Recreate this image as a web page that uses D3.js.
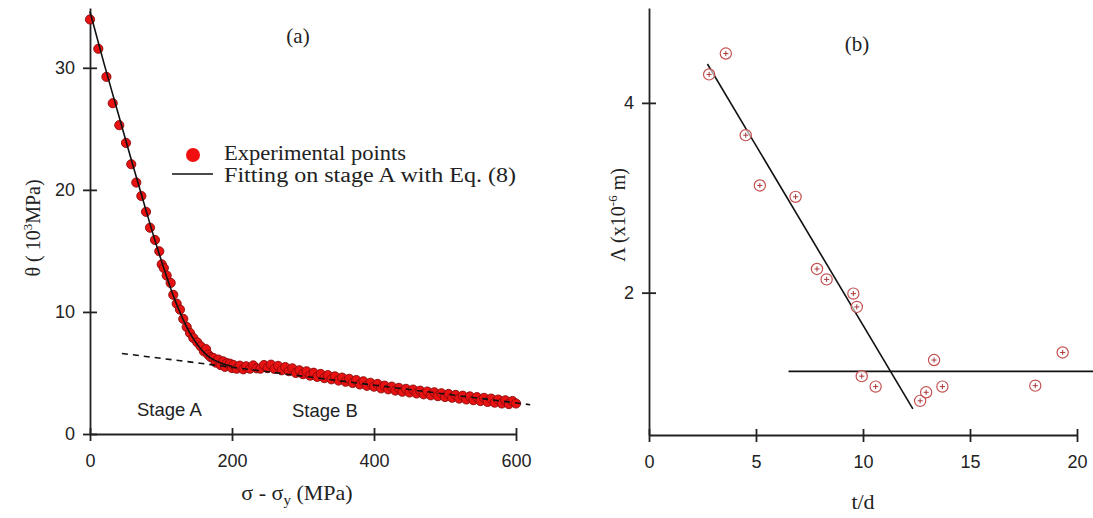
<!DOCTYPE html>
<html>
<head>
<meta charset="utf-8">
<script src="https://cdn.jsdelivr.net/npm/d3@7/dist/d3.min.js"></script>
<style>
  body { margin: 0; background: #fff; }
  .tick text { font-family: "Liberation Sans", Arial, sans-serif; fill: #222; }
  .ttl { font-family: "Liberation Serif", "Times New Roman", serif; fill: #222; }
</style>
</head>
<body>
<div id="chart"></div>
<script>
// ---- panel (a): work hardening rate vs. flow stress ----
var stressA = [0, 11.7, 23.1, 32, 41.2, 50.7, 58.1, 65.2, 72.3, 78.9, 84.5, 91.5, 97.6, 101, 104, 108, 113.6, 117.3, 122.1, 126.7,
    131.4, 136.2, 140.8, 145.5, 151.1, 155.9, 160.5, 163.5, 166.6, 170, 173.6, 177, 180.7, 184, 187.7, 190, 193, 197.1, 200, 202, 206.6,
    211, 215.9, 220, 225.3, 230, 234.7];
var thetaA = [33.96, 31.56, 29.26, 27.1, 25.3, 23.85, 22.1, 20.6, 19.5, 18.2, 16.9, 15.9, 14.97, 13.9, 13.6, 12.98, 12.38, 11.4, 10.68, 10.19,
    9.43, 8.77, 8.28, 7.87, 7.51, 7.18, 6.77, 6.95, 6.5, 6.3, 6.23, 5.85, 6.1, 5.65, 5.95, 5.5, 5.8, 5.76, 5.4, 5.65, 5.35,
    5.6, 5.3, 5.55, 5.35, 5.62, 5.38];
var stressB = [240, 245, 250, 255, 260, 265, 270, 275, 280, 285, 290, 295, 300, 305, 310, 315, 320, 325, 330, 335,
    340, 345, 350, 355, 360, 365, 370, 375, 380, 385, 390, 395, 400, 405, 410, 415, 420, 425, 430, 435,
    440, 445, 450, 455, 460, 465, 470, 475, 480, 485, 490, 495, 500, 505, 510, 515, 520, 525, 530, 535,
    540, 545, 550, 555, 560, 565, 570, 575, 580, 585, 590, 595, 600];
var thetaB = [5.35, 5.65, 5.4, 5.68, 5.33, 5.58, 5.22, 5.48, 5.15, 5.38, 5.0, 5.22, 4.9, 5.14, 4.78, 5.02, 4.68, 4.92, 4.58, 4.82,
    4.48, 4.72, 4.38, 4.62, 4.28, 4.52, 4.18, 4.42, 4.06, 4.32, 3.95, 4.2, 3.88, 4.1, 3.74, 3.96, 3.66, 3.88, 3.56, 3.78,
    3.46, 3.7, 3.4, 3.64, 3.32, 3.55, 3.25, 3.48, 3.17, 3.42, 3.1, 3.34, 3.03, 3.28, 2.97, 3.2, 2.9, 3.14, 2.83, 3.08,
    2.77, 3.02, 2.7, 2.96, 2.63, 2.9, 2.57, 2.82, 2.5, 2.76, 2.45, 2.7, 2.5];
var fitStress = [0, 20, 40, 60, 80, 95, 105, 115, 125, 135, 145, 155, 165, 175, 185, 200];
var fitTheta = [34.6, 30.3, 26.2, 22.1, 18.1, 15.2, 13.4, 11.7, 10.2, 8.9, 7.85, 7.05, 6.45, 6.05, 5.8, 5.55];
var dashStress = [45, 620];
var dashTheta = [6.6, 2.4];
var xTicksA = [0, 200, 400, 600];
var yTicksA = [0, 10, 20, 30];

// ---- panel (b): spacing vs. t/d ----
var tOverD = [2.81, 3.59, 4.52, 5.18, 6.85, 7.85, 8.3, 9.55, 9.71, 9.94, 10.59, 12.67, 12.95, 13.32, 13.71, 18.05, 19.33];
var lambdaVals = [4.3, 4.52, 3.66, 3.13, 3.01, 2.25, 2.14, 1.99, 1.85, 1.12, 1.01, 0.86, 0.95, 1.29, 1.01, 1.02, 1.37];
var slopeX = [2.73, 12.33];
var slopeY = [4.41, 0.775];
var flatX = [6.52, 20.8];
var flatY = [1.17, 1.17];
var xTicksB = [0, 5, 10, 15, 20];
var yTicksB = [2, 4];

var width = 1093, height = 518;
var svg = d3.select("#chart").append("svg")
    .attr("width", width).attr("height", height)
    .style("background", "#fff");

/* Scales */
var xA = d3.scaleLinear().domain([0, 600]).range([90, 516]);
var yA = d3.scaleLinear().domain([0, 34.9]).range([434, 8]);
var xB = d3.scaleLinear().domain([0, 20]).range([649, 1077]);
var yB = d3.scaleLinear().domain([0.5, 5.0]).range([435, 8]);

// crossing ticks like the original plot
var drawAxes = (x, y, xt, yt, x0, y0) => {
    var ax = svg.append("g")
        .attr("transform", `translate(0, ${y0})`)
        .call(d3.axisBottom(x).tickValues(xt).tickSize(6).tickSizeOuter(0).tickPadding(14).tickFormat(d3.format("d")));
    ax.selectAll(".tick line").attr("y1", -6).attr("y2", 7);
    ax.selectAll("text").style("font-size", "18px");
    var ay = svg.append("g")
        .attr("transform", `translate(${x0}, 0)`)
        .call(d3.axisLeft(y).tickValues(yt).tickSize(7).tickSizeOuter(0).tickPadding(8).tickFormat(d3.format("d")));
    ay.selectAll(".tick line").attr("x2", -7).attr("x1", 7);
    ay.selectAll("text").style("font-size", "18px");
    svg.selectAll(".domain, .tick line").attr("stroke", "#222").attr("stroke-width", 1.8);
};
drawAxes(xA, yA, xTicksA, yTicksA, 90, 434);
drawAxes(xB, yB, xTicksB, yTicksB, 649, 435);

/* Panel (a) marks */
var ptsA = stressA.map((s, i) => ({s: s, t: thetaA[i]}))
    .concat(stressB.map((s, i) => ({s: s, t: thetaB[i]})));
svg.append("g").attr("class", "exp-points")
    .selectAll("circle")
    .data(ptsA).enter()
    .append("circle")
    .attr("cx", d => xA(d.s))
    .attr("cy", d => yA(d.t))
    .attr("r", 4.6)
    .style("fill", "#e81212")
    .style("stroke", "#8a0a0a")
    .style("stroke-width", 0.9);

var fitLine = d3.line().curve(d3.curveMonotoneX)
    .x(d => xA(d[0])).y(d => yA(d[1]));
svg.append("path")
    .attr("d", fitLine(fitStress.map((s, i) => [s, fitTheta[i]])))
    .style("fill", "none").style("stroke", "#111").style("stroke-width", 1.6);
svg.append("path")
    .attr("d", d3.line().x(d => xA(d[0])).y(d => yA(d[1]))(dashStress.map((s, i) => [s, dashTheta[i]])))
    .style("fill", "none").style("stroke", "#111").style("stroke-width", 1.6)
    .style("stroke-dasharray", "6,5");

// legend
svg.append("circle").attr("cx", 193).attr("cy", 155).attr("r", 7).style("fill", "#f01010");
svg.append("line").attr("x1", 172).attr("x2", 213).attr("y1", 174).attr("y2", 174)
    .style("stroke", "#111").style("stroke-width", 1.6);
svg.append("text").attr("class", "ttl").attr("x", 224).attr("y", 160).style("font-size", "20px")
    .attr("textLength", 182).attr("lengthAdjust", "spacingAndGlyphs").text("Experimental points");
svg.append("text").attr("class", "ttl").attr("x", 224).attr("y", 182).style("font-size", "20px")
    .attr("textLength", 292).attr("lengthAdjust", "spacingAndGlyphs").text("Fitting on stage A with Eq. (8)");

svg.append("text").attr("x", 137).attr("y", 416)
    .style("font-family", "Liberation Sans, Arial, sans-serif").style("font-size", "18.5px").style("fill", "#222").text("Stage A");
svg.append("text").attr("x", 292).attr("y", 417)
    .style("font-family", "Liberation Sans, Arial, sans-serif").style("font-size", "18.5px").style("fill", "#222").text("Stage B");

svg.append("text").attr("class", "ttl").attr("x", 298).attr("y", 43).attr("text-anchor", "middle").style("font-size", "21px").text("(a)");
var xlab = svg.append("text").attr("class", "ttl").attr("x", 297).attr("y", 500).attr("text-anchor", "middle").style("font-size", "22px");
xlab.append("tspan").text("σ - σ");
xlab.append("tspan").attr("dy", 5).style("font-size", "15px").text("y");
xlab.append("tspan").attr("dy", -5).text(" (MPa)");
var ylab = svg.append("text").attr("class", "ttl")
    .attr("transform", "translate(40, 228) rotate(-90)").attr("text-anchor", "middle").style("font-size", "20px");
ylab.append("tspan").text("θ ( 10");
ylab.append("tspan").attr("dy", -8).style("font-size", "13px").text("3");
ylab.append("tspan").attr("dy", 8).text("MPa)");

/* Panel (b) marks */
var seg = d3.line().x(d => xB(d[0])).y(d => yB(d[1]));
svg.append("path").attr("d", seg(slopeX.map((v, i) => [v, slopeY[i]])))
    .style("fill", "none").style("stroke", "#111").style("stroke-width", 1.6);
svg.append("path").attr("d", seg(flatX.map((v, i) => [v, flatY[i]])))
    .style("fill", "none").style("stroke", "#111").style("stroke-width", 1.6);

var mk = svg.append("g").attr("class", "lambda-points")
    .selectAll("g")
    .data(tOverD.map((v, i) => ({x: v, y: lambdaVals[i]}))).enter()
    .append("g")
    .attr("transform", d => `translate(${xB(d.x)}, ${yB(d.y)})`);
mk.append("circle").attr("r", 5.6)
    .style("fill", "#fff").style("fill-opacity", 0.6)
    .style("stroke", "#c45050").style("stroke-width", 1.2);
mk.append("path").attr("d", "M-2.6,0H2.6M0,-2.6V2.6")
    .style("stroke", "#a83a3a").style("stroke-width", 1);

svg.append("text").attr("class", "ttl").attr("x", 857).attr("y", 51).attr("text-anchor", "middle").style("font-size", "21px").text("(b)");
svg.append("text").attr("class", "ttl").attr("x", 863).attr("y", 509).attr("text-anchor", "middle").style("font-size", "22px").text("t/d");
var ylabB = svg.append("text").attr("class", "ttl")
    .attr("transform", "translate(625, 215) rotate(-90)").attr("text-anchor", "middle").style("font-size", "20px");
ylabB.append("tspan").text("Λ (x10");
ylabB.append("tspan").attr("dy", -8).style("font-size", "13px").text("-6");
ylabB.append("tspan").attr("dy", 8).text(" m)");
</script>
</body>
</html>
